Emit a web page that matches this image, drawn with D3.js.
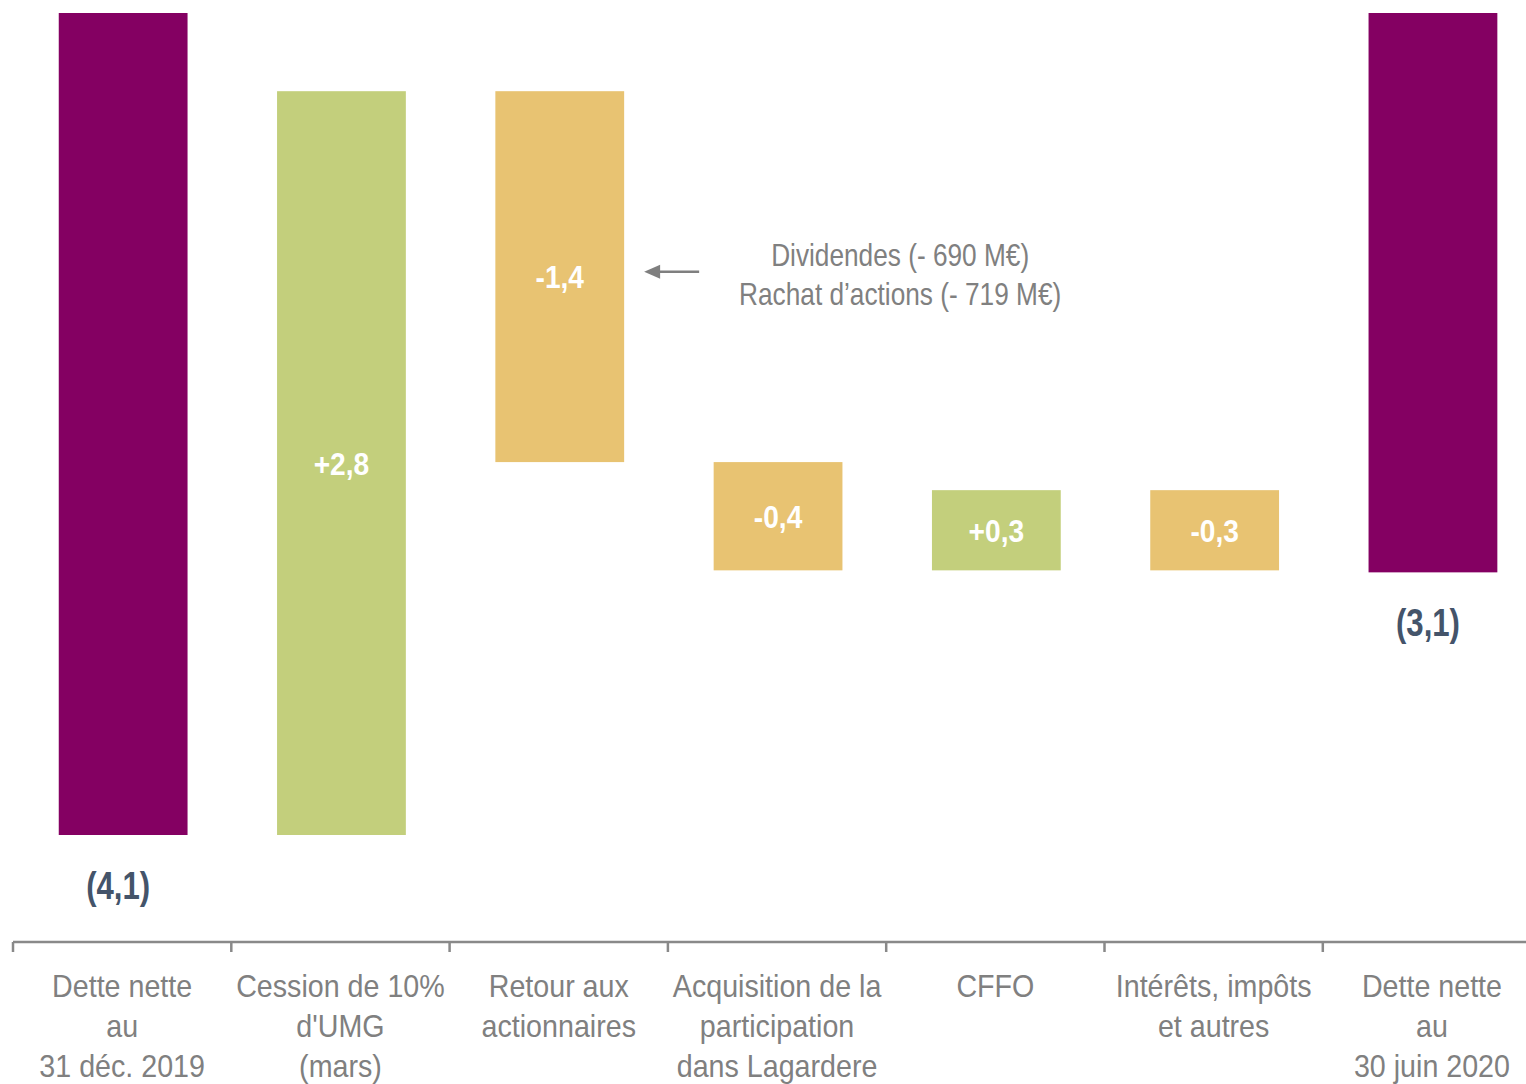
<!DOCTYPE html>
<html>
<head>
<meta charset="utf-8">
<script src="https://cdn.jsdelivr.net/npm/d3@7"></script>
<style>
  body { margin: 0; background: #fff; }
  svg { display: block; font-family: "Liberation Sans", Arial, sans-serif; }
  .cat { fill: #808080; font-size: 32px; }
  .val { fill: #fff; font-size: 32px; font-weight: bold; }
  .total { fill: #44546a; font-size: 38px; font-weight: bold; }
  .note { fill: #808080; font-size: 32px; }
</style>
</head>
<body>
<svg width="1526" height="1084"></svg>
<script>
'use strict';

// categories (multi-line labels)
const categories = [
  ["Dette nette", "au", "31 déc. 2019"],
  ["Cession de 10%", "d'UMG", "(mars)"],
  ["Retour aux", "actionnaires"],
  ["Acquisition de la", "participation", "dans Lagardere"],
  ["CFFO"],
  ["Intérêts, impôts", "et autres"],
  ["Dette nette", "au", "30 juin 2020"]
];
// values shown on the bars (Md€)
const labels = ["(4,1)", "+2,8", "-1,4", "-0,4", "+0,3", "-0,3", "(3,1)"];
const kinds = ["total", "up", "down", "down", "up", "down", "total"];
// bar extents as drawn in the source (schematic, depth below zero)
const levelStart = [0, 4.1, 0.39, 2.24, 2.78, 2.38, 0];
const levelEnd   = [4.1, 0.39, 2.24, 2.78, 2.38, 2.78, 2.79];
const noteLines = ["Dividendes (- 690 M€)", "Rachat d’actions (- 719 M€)"];

const colors = { total: "#840062", up: "#c3cf7c", down: "#e8c372" };

const svg = d3.select("svg");

const x = d3.scaleBand()
  .domain(d3.range(categories.length))
  .range([14, 14 + 218.3 * 7])
  .paddingInner(0.41)
  .paddingOuter(0.205);

const y = d3.scaleLinear().domain([0, 4.1]).range([13, 835]);

const data = categories.map((c, i) => ({
  i, cat: c, label: labels[i], kind: kinds[i],
  a: levelStart[i], b: levelEnd[i]
}));

const cx = d => x(d.i) + x.bandwidth() / 2;
// squeeze Liberation Sans horizontally, looks like Arial Narrow
const place = (px, py, k) => `translate(${px},${py}) scale(${k},1)`;

// bars
svg.append("g").selectAll("rect")
  .data(data).enter().append("rect")
  .attr("x", d => x(d.i))
  .attr("width", x.bandwidth())
  .attr("y", d => y(Math.min(d.a, d.b)))
  .attr("height", d => y(Math.max(d.a, d.b)) - y(Math.min(d.a, d.b)))
  .attr("fill", d => colors[d.kind]);

// labels inside change bars
svg.append("g").selectAll("text")
  .data(data.filter(d => d.kind !== "total")).enter().append("text")
  .attr("class", "val")
  .attr("text-anchor", "middle")
  .attr("transform", d => place(cx(d), y((d.a + d.b) / 2) + 11.5, 0.88))
  .text(d => d.label);

// totals under end bars
svg.append("g").selectAll("text")
  .data(data.filter(d => d.kind === "total")).enter().append("text")
  .attr("class", "total")
  .attr("text-anchor", "middle")
  .attr("transform", d => place(cx(d) - 5, y(Math.max(d.a, d.b)) + 64, 0.82))
  .text(d => d.label);

// category axis
const axisY = 942;
const axis = svg.append("g");
axis.append("line")
  .attr("x1", x.range()[0] - 1).attr("x2", 1526)
  .attr("y1", axisY).attr("y2", axisY)
  .attr("stroke", "#898989").attr("stroke-width", 2.5);
axis.selectAll("line.tick")
  .data(d3.range(categories.length)).enter().append("line")
  .attr("class", "tick")
  .attr("x1", i => x(i) - x.step() * x.paddingOuter() - 1)
  .attr("x2", i => x(i) - x.step() * x.paddingOuter() - 1)
  .attr("y1", axisY).attr("y2", axisY + 10)
  .attr("stroke", "#898989").attr("stroke-width", 2.5);

const catText = axis.selectAll("text.cat")
  .data(data).enter().append("text")
  .attr("class", "cat")
  .attr("text-anchor", "middle")
  .attr("transform", d => place(cx(d) - 1, 997, 0.895));
catText.selectAll("tspan")
  .data(d => d.cat).enter().append("tspan")
  .attr("x", 0)
  .attr("dy", (s, k) => k === 0 ? 0 : 40)
  .text(s => s);

// annotation on "Retour aux actionnaires"
const noteX = x(2) + x.bandwidth() + 276;
const ann = svg.append("g");
ann.selectAll("text")
  .data(noteLines).enter().append("text")
  .attr("class", "note")
  .attr("text-anchor", "middle")
  .attr("transform", (s, k) => place(noteX, 266 + k * 39, 0.82))
  .text(s => s);

const arrowY = y((levelStart[2] + levelEnd[2]) / 2) - 5;
const ax0 = x(2) + x.bandwidth() + 20;
ann.append("line")
  .attr("x1", ax0 + 10).attr("x2", ax0 + 55)
  .attr("y1", arrowY).attr("y2", arrowY)
  .attr("stroke", "#7f7f7f").attr("stroke-width", 2.5);
ann.append("path")
  .attr("d", `M${ax0},${arrowY} L${ax0 + 16},${arrowY - 7} L${ax0 + 16},${arrowY + 7} Z`)
  .attr("fill", "#7f7f7f");
</script>
</body>
</html>
